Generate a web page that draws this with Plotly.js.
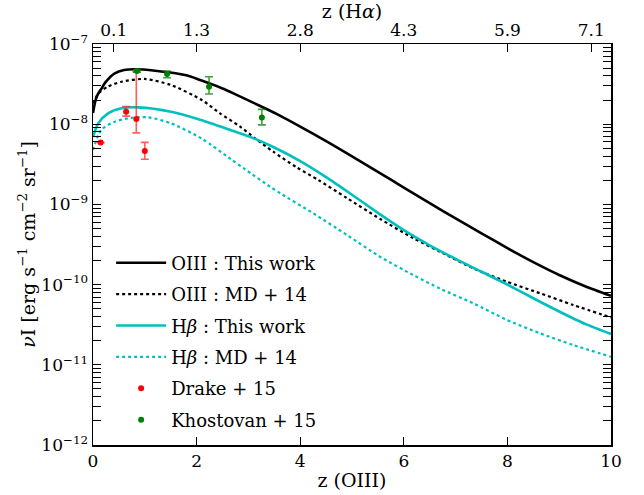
<!DOCTYPE html>
<html>
<head>
<meta charset="utf-8">
<script src="https://cdn.plot.ly/plotly-3.0.1.min.js"></script>
<style>html,body{margin:0;padding:0;background:#fff;}#chart{width:644px;height:495px;}</style>
</head>
<body>
<div id="chart"></div>
<script>
// ---- data ----
const zOIIIThis = [0, 0.05, 0.1, 0.16, 0.25, 0.42, 0.6, 0.8, 1.2, 1.8, 2.07, 2.5, 2.71, 3.1, 3.35, 3.6, 4.0, 4.5, 5.0, 5.5, 6.0, 6.5, 7.0, 7.5, 8.0, 8.5, 9.0, 9.5, 10];
const vOIIIThis = [1.380e-8, 1.995e-8, 2.399e-8, 2.754e-8, 3.388e-8, 4.315e-8, 4.732e-8, 4.842e-8, 4.645e-8, 4.074e-8, 3.548e-8, 2.786e-8, 2.427e-8, 1.841e-8, 1.549e-8, 1.288e-8, 9.333e-9, 6.166e-9, 3.981e-9, 2.541e-9, 1.622e-9, 1.035e-9, 6.683e-10, 4.365e-10, 2.851e-10, 1.905e-10, 1.318e-10, 9.550e-11, 7.244e-11];

const zOIIIMD = [0, 0.1, 0.29, 0.55, 1.0, 1.5, 2.1, 2.45, 2.84, 3.13, 3.48, 3.93, 4.35, 4.9, 5.54, 6.18, 6.7, 7.34, 7.99, 8.63, 9.27, 10];
const vOIIIMD = [1.820e-8, 2.399e-8, 2.951e-8, 3.388e-8, 3.664e-8, 3.090e-8, 2.004e-8, 1.368e-8, 9.333e-9, 6.668e-9, 4.539e-9, 2.904e-9, 2.014e-9, 1.202e-9, 6.607e-10, 3.802e-10, 2.570e-10, 1.596e-10, 1.086e-10, 7.798e-11, 5.572e-11, 3.890e-11];

const zHbThis = [0, 0.1, 0.29, 0.55, 0.87, 1.51, 2.1, 2.71, 3.0, 3.5, 4.0, 4.5, 5.0, 5.5, 6.0, 6.5, 7.0, 7.5, 8.0, 8.5, 9.0, 9.5, 10];
const vHbThis = [6.918e-9, 1.023e-8, 1.368e-8, 1.585e-8, 1.622e-8, 1.432e-8, 1.122e-8, 8.222e-9, 7.079e-9, 5.129e-9, 3.467e-9, 2.188e-9, 1.318e-9, 7.852e-10, 4.786e-10, 3.090e-10, 2.089e-10, 1.445e-10, 1.000e-10, 6.761e-11, 4.624e-11, 3.236e-11, 2.421e-11];

const zHbMD = [0, 0.16, 0.42, 0.74, 1.06, 1.51, 2.1, 2.67, 2.93, 3.42, 3.61, 4.25, 4.9, 5.54, 6.18, 6.7, 7.34, 7.99, 8.63, 9.27, 10];
const vHbMD = [4.786e-9, 8.511e-9, 1.076e-8, 1.202e-8, 1.219e-8, 1.023e-8, 6.607e-9, 3.631e-9, 2.754e-9, 1.660e-9, 1.380e-9, 7.762e-10, 4.169e-10, 2.228e-10, 1.318e-10, 8.913e-11, 5.848e-11, 3.631e-11, 2.472e-11, 1.766e-11, 1.259e-11];

const zDrake = [0.148, 0.64, 0.836, 1.0];
const vDrake = [5.9e-9, 1.43e-8, 1.16e-8, 4.63e-9];
const hiDrake = [5.9e-9, 1.66e-8, 4.5e-8, 5.94e-9];
const loDrake = [5.9e-9, 1.26e-8, 7.8e-9, 3.65e-9];

const zKhost = [0.85, 1.43, 2.24, 3.26];
const vKhost = [4.6e-8, 4.22e-8, 2.94e-8, 1.21e-8];
const hiKhost = [4.8e-8, 4.6e-8, 3.9e-8, 1.53e-8];
const loKhost = [4.45e-8, 3.8e-8, 2.38e-8, 9.8e-9];

const xTicks = [0, 2, 4, 6, 8, 10];
const topTickPos = [0.4, 2, 4, 6, 8, 9.62];
const topTickText = ['0.1', '1.3', '2.8', '4.3', '5.9', '7.1'];
const yTickExp = [-12, -11, -10, -9, -8, -7];

// ---- build ----
const FONT = 'DejaVu Serif';
const CYAN = '#00bfbf';

function lineTrace(x, y, name, color, dash, group) {
  return {x: x, y: y, name: name, type: 'scatter', mode: 'lines',
    line: {color: color, width: dash === 'solid' ? 2.6 : 2.2, dash: dash, shape: 'spline', smoothing: 0.7},
    legendgroup: group, hoverinfo: 'skip'};
}
function errTrace(x, y, hi, lo, name, color, ecol, group) {
  return {x: x, y: y, name: name, type: 'scatter', mode: 'markers',
    marker: {color: color, size: 6},
    error_y: {type: 'data', symmetric: false,
      array: y.map((v, i) => hi[i] - v), arrayminus: y.map((v, i) => v - lo[i]),
      color: ecol, thickness: 1.6, width: 4},
    legendgroup: group};
}

const traces = [
  lineTrace(zOIIIThis, vOIIIThis, 'OIII : This work', '#000000', 'solid', 'a'),
  lineTrace(zOIIIMD, vOIIIMD, 'OIII : MD + 14', '#000000', 'dot', 'b'),
  lineTrace(zHbThis, vHbThis, 'H<i>β</i> : This work', CYAN, 'solid', 'c'),
  lineTrace(zHbMD, vHbMD, 'H<i>β</i> : MD + 14', CYAN, 'dot', 'd'),
  errTrace(zDrake, vDrake, hiDrake, loDrake, 'Drake + 15', '#ff0000', 'rgba(255,40,40,0.75)', 'e'),
  errTrace(zKhost, vKhost, hiKhost, loKhost, 'Khostovan + 15', '#008000', 'rgba(0,128,0,0.75)', 'f'),
  {x: [0, 10], y: [1e-12, 1e-12], xaxis: 'x2', type: 'scatter', mode: 'lines',
   line: {width: 0, color: 'rgba(0,0,0,0)'}, showlegend: false, hoverinfo: 'skip'}
];

const minorVals = [];
for (let e = -12; e < -7; e++) { for (let d = 2; d <= 9; d++) minorVals.push(d * Math.pow(10, e)); }

const layout = {
  width: 644, height: 495,
  margin: {l: 93, r: 33, t: 44, b: 50},
  paper_bgcolor: '#ffffff', plot_bgcolor: '#ffffff',
  font: {family: FONT, size: 17, color: '#000'},
  showlegend: true,
  legend: {x: 0.035, y: 0.5, xanchor: 'left', yanchor: 'top', bgcolor: 'rgba(0,0,0,0)',
    font: {family: FONT, size: 18}, traceorder: 'grouped', tracegroupgap: 5, itemwidth: 50},
  xaxis: {range: [0, 10], tickmode: 'array', tickvals: xTicks, ticktext: xTicks.map(String),
    ticks: 'inside', ticklen: 8, tickwidth: 1.2, tickcolor: '#000',
    showline: true, linecolor: '#000', linewidth: 1.5, showgrid: false, zeroline: false,
    tickfont: {family: FONT, size: 17},
    title: {text: 'z (OIII)', font: {family: FONT, size: 19}, standoff: 4}},
  xaxis2: {overlaying: 'x', side: 'top', anchor: 'y', range: [0, 10], tickmode: 'array',
    tickvals: topTickPos, ticktext: topTickText,
    ticks: 'inside', ticklen: 8, tickwidth: 1.2, tickcolor: '#000',
    showline: true, linecolor: '#000', linewidth: 1.5, showgrid: false, zeroline: false,
    tickfont: {family: FONT, size: 17},
    title: {text: 'z (H<i>α</i>)', font: {family: FONT, size: 19}, standoff: 2}},
  yaxis: {type: 'log', range: [-12, -7], tickmode: 'array',
    tickvals: yTickExp.map(e => Math.pow(10, e)),
    ticktext: yTickExp.map(e => '10<sup>\u2212' + Math.abs(e) + '</sup>'),
    ticks: 'inside', ticklen: 8, tickwidth: 1.2, tickcolor: '#000',
    minor: {tickmode: 'array', tickvals: minorVals, ticks: 'inside', ticklen: 4, tickwidth: 1, tickcolor: '#000', showgrid: false},
    showline: true, linecolor: '#000', linewidth: 1.5, mirror: 'allticks', showgrid: false, zeroline: false,
    tickfont: {family: FONT, size: 17},
    title: {text: '<i>ν</i>I [erg s<sup>\u22121</sup> cm<sup>\u22122</sup> sr<sup>\u22121</sup>]', font: {family: FONT, size: 19}, standoff: 0}}
};

Plotly.newPlot('chart', traces, layout, {staticPlot: true, displayModeBar: false});
</script>
</body>
</html>
